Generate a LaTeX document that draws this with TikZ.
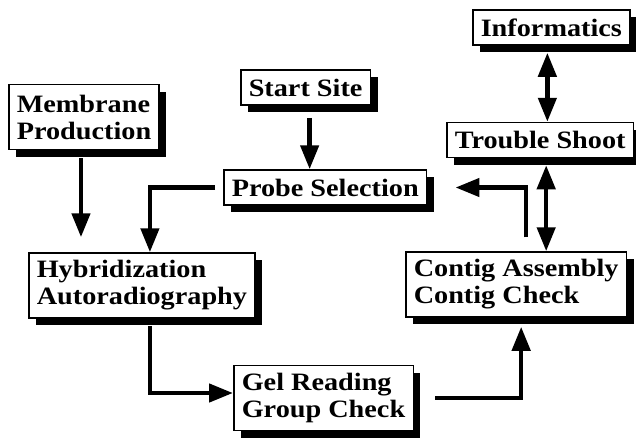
\documentclass[tikz,border=0pt]{standalone}
\usepackage{fontspec}
\newfontfamily\boxfont[FakeStretch=1.13]{Liberation Serif}
\usetikzlibrary{arrows.meta}
\usetikzlibrary{shadows}

\begin{document}
\begin{tikzpicture}[x=1pt,y=-1pt]
\tikzstyle{box}=[draw,line width=1.5pt,fill=white,align=left,anchor=west,
  inner xsep=8pt,inner ysep=6pt,minimum height=35pt,
  font=\boxfont\bfseries\fontsize{25}{27}\selectfont,
  drop shadow={shadow xshift=7pt,shadow yshift=-7pt,opacity=1,fill=black}]
\tikzstyle{twoline}=[box,minimum height=65pt]
\tikzstyle{flow}=[line width=4.5pt,-{Triangle[length=24pt,width=18pt]}]
\tikzstyle{both}=[line width=4.5pt,{Triangle[length=24pt,width=18pt]}-{Triangle[length=24pt,width=18pt]}]
\useasboundingbox (0,0) rectangle (636,437);
\node[twoline] (memb) at (8,117) {Membrane\\Production};
\node[box] (start) at (240,87.5) {Start Site};
\node[box] (probe) at (223,187.5) {Probe Selection};
\node[box] (info) at (472,27.5) {Informatics};
\node[box] (trouble) at (446,140) {Trouble Shoot};
\node[twoline] (hybrid) at (28,285.5) {Hybridization\\Autoradiography};
\node[twoline] (contig) at (405,284.5) {Contig Assembly\\Contig Check};
\node[twoline] (gel) at (233,398) {Gel Reading\\Group Check};
% vertical feeds
\draw[flow,shorten <=8pt,shorten >=15pt] ([xshift=-3pt]memb.south) -- ([xshift=-3pt]memb.south |- hybrid.north);
\draw[flow,shorten <=12pt] ([xshift=4pt]start.south) -- ([xshift=4pt]start.south |- probe.north);
\draw[flow,shorten <=8pt] (probe.west) -| ([xshift=8pt]hybrid.north);
\draw[flow,shorten <=7pt] ([xshift=8pt]hybrid.south) |- ([yshift=5pt]gel.west);
\draw[flow,shorten <=21pt,shorten >=9pt] (gel.east) -| ([xshift=5pt]contig.south);
\draw[flow,shorten <=14pt,shorten >=28pt] ([xshift=10pt]contig.north) |- (probe.east);
% two way links
\draw[both,shorten <=7pt] ([xshift=-4pt]info.south) -- ([xshift=-4pt]info.south |- trouble.north);
\draw[both,shorten <=7pt] ([xshift=6pt]trouble.south) -- ([xshift=6pt]trouble.south |- contig.north);
\end{tikzpicture}
\end{document}
